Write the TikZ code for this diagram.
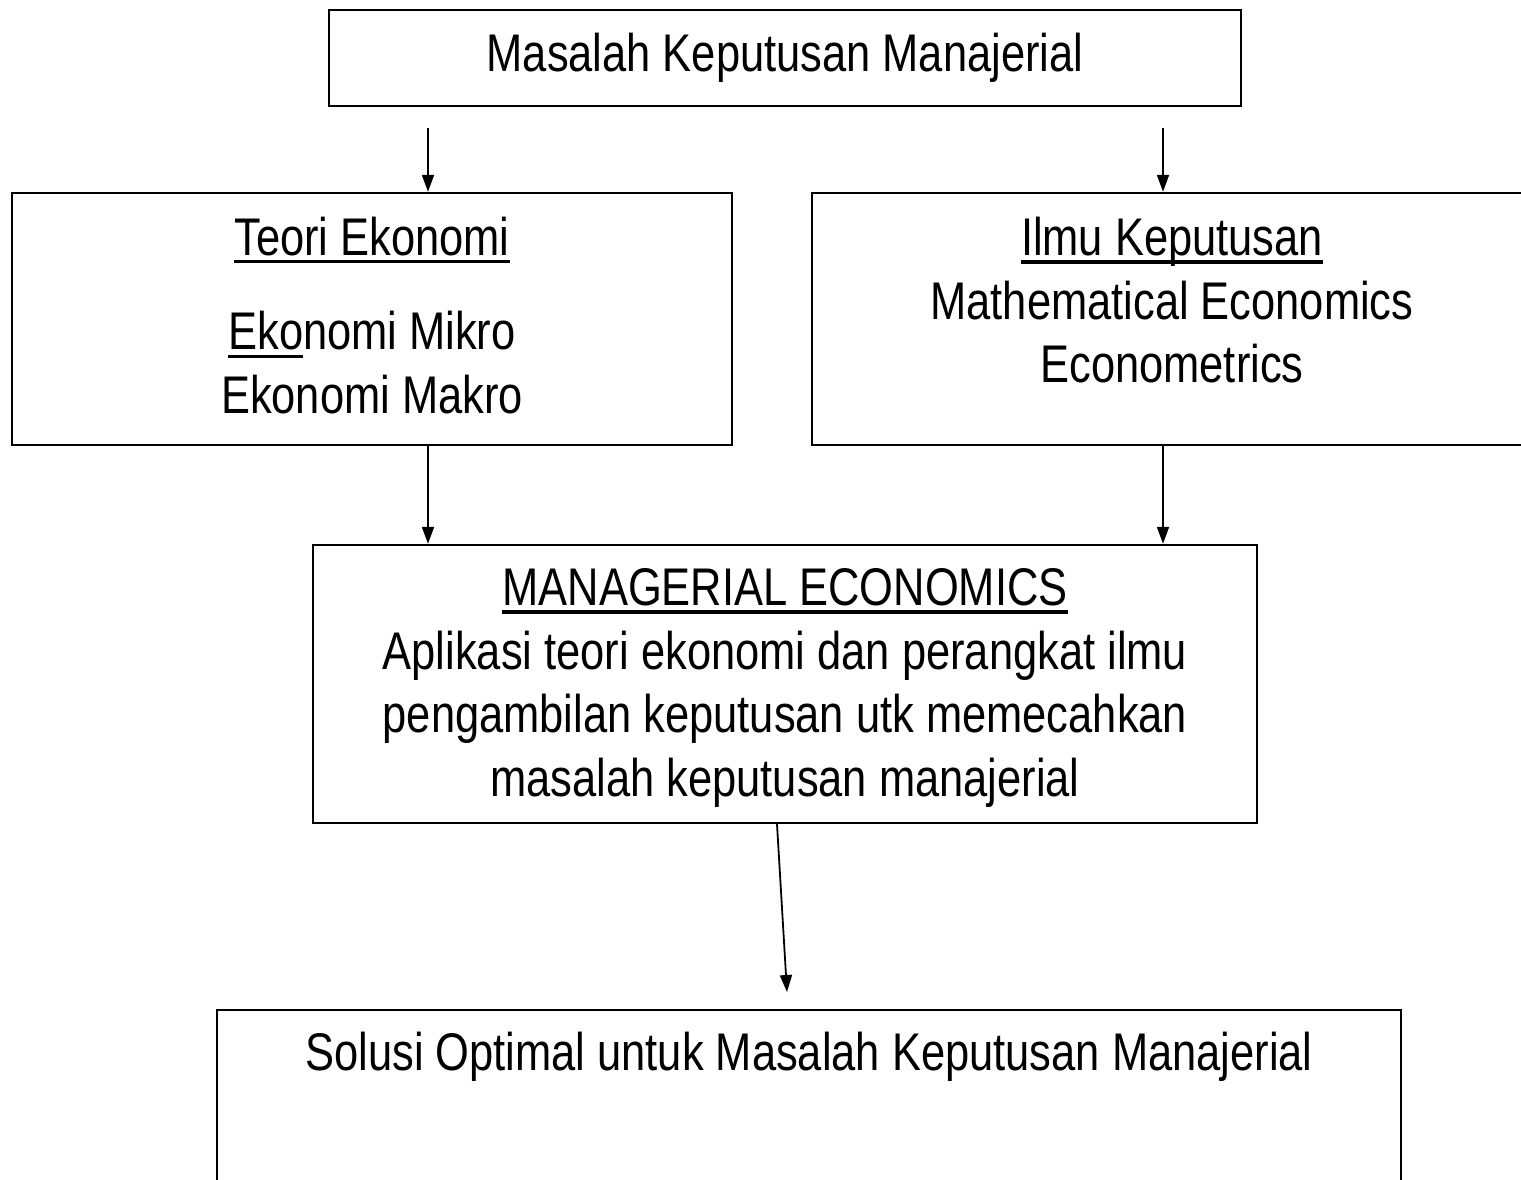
\documentclass[tikz,border=0pt]{standalone}
\usepackage{fontspec}
\setmainfont[FakeStretch=0.82]{Liberation Sans}
\usepackage{tikz}
\usetikzlibrary{arrows.meta}
\newcommand{\ulbar}[1]{\setbox0\hbox{#1}\rlap{\rule[-4pt]{\wd0}{1.6pt}}\box0}
\tikzset{box/.style={draw, line width=1.2pt, align=center, inner sep=0pt,
    font=\fontsize{26.5}{31.8}\selectfont}}
\tikzset{arr/.style={-{Triangle[length=8.5pt,width=6pt]}, line width=0.9pt}}

\begin{document}
\begin{tikzpicture}[x=0.5pt, y=-0.5pt]
    \clip (0,0) rectangle (1521,1179);
    \node[box, minimum width=456pt, minimum height=48pt] (masalah) at (785,58) {Masalah Keputusan Manajerial};
    \node[box, minimum width=360pt, minimum height=126pt, text depth=4pt] (teori) at (372,319)
      {\ulbar{Teori Ekonomi}\\[15.5pt] \ulbar{Eko}nomi Mikro\\ Ekonomi Makro};
    \node[box, minimum width=360pt, minimum height=126pt, text depth=19pt] (ilmu) at (1172,319)
      {\ulbar{Ilmu Keputusan}\\ Mathematical Economics\\ Econometrics};
    \node[box, minimum width=472pt, minimum height=139pt, text depth=1.5pt] (mgr) at (785,684)
      {\ulbar{MANAGERIAL ECONOMICS}\\ Aplikasi teori ekonomi dan perangkat ilmu\\
       pengambilan keputusan utk memecahkan\\ masalah keputusan manajerial};
    \node[box, anchor=north, minimum width=592pt, text height=30pt, text depth=150pt] (solusi) at (809,1009)
      {Solusi Optimal untuk Masalah Keputusan Manajerial};
    \coordinate (s1) at (428,128);
    \coordinate (s2) at (1163,128);
    \coordinate (tip) at (787,992);
    \draw[arr] (s1) -- (s1 |- teori.north);
    \draw[arr] (s2) -- (s2 |- ilmu.north);
    \draw[arr] (s1 |- teori.south) -- (s1 |- mgr.north);
    \draw[arr] (s2 |- ilmu.south) -- (s2 |- mgr.north);
    \draw[arr] ([xshift=-4pt]mgr.south) -- (tip);
  \end{tikzpicture}
\end{document}
